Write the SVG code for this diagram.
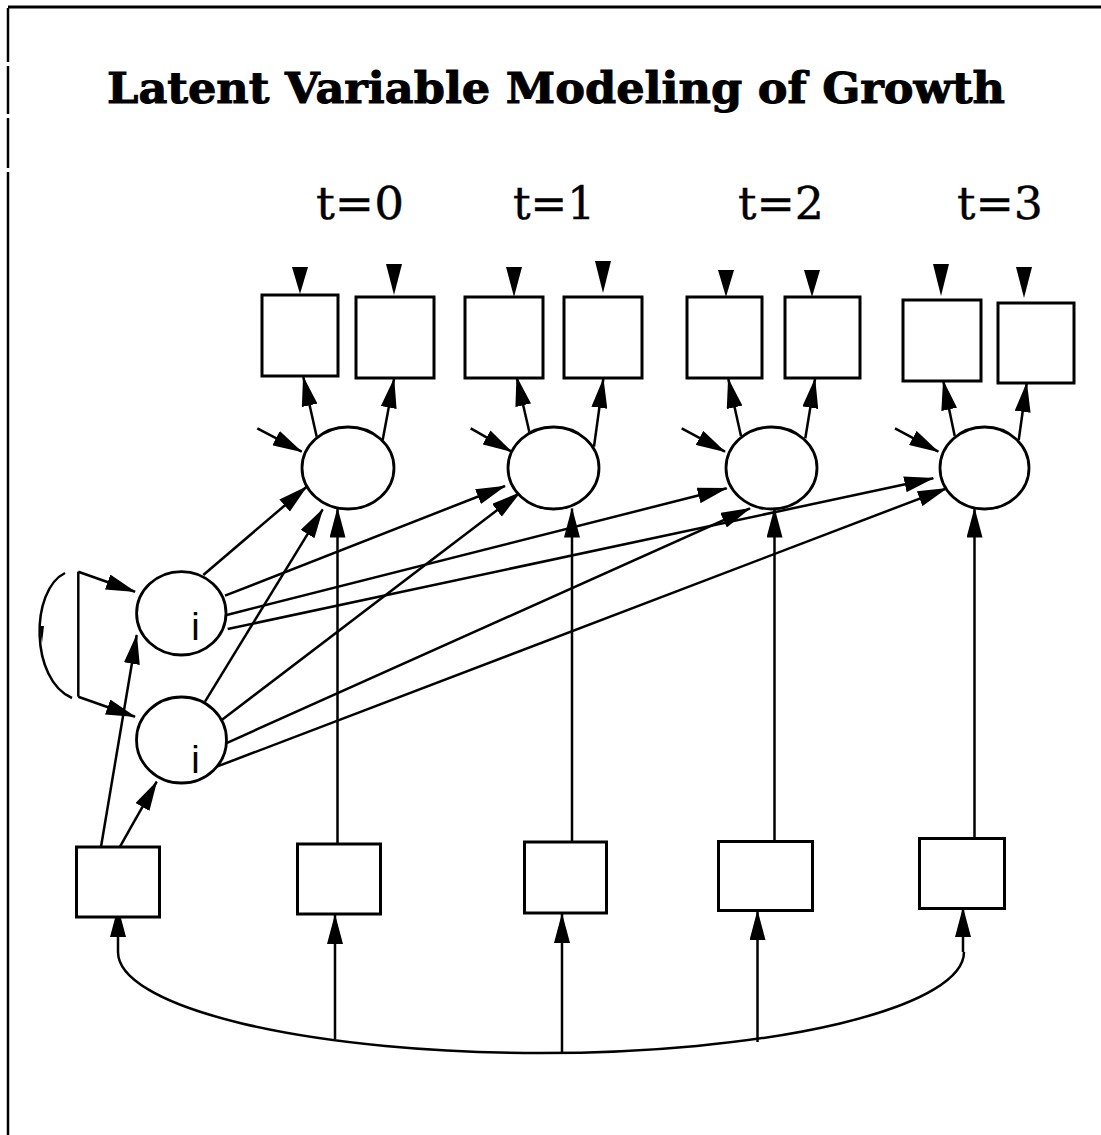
<svg xmlns="http://www.w3.org/2000/svg" width="1101" height="1135" viewBox="0 0 1101 1135">
<style>
.bg{fill:#fff}
.box{fill:#fff;stroke:#000;stroke-width:3}
.ell{fill:#fff;stroke:#000;stroke-width:2.8}
.ln{fill:none;stroke:#000;stroke-width:2.5}
.arr{fill:none;stroke:#000;stroke-width:2.5;marker-end:url(#ah)}
.tri{fill:#000}
.title{font-family:"DejaVu Serif","Liberation Serif",serif;font-weight:bold;font-size:43px;fill:#000;stroke:#000;stroke-width:1}
.time{font-family:"DejaVu Serif","Liberation Serif",serif;font-size:45px;fill:#000;stroke:#000;stroke-width:0.4}
.lab{font-family:"Liberation Sans",Arial,sans-serif;font-size:38px;fill:#000}
</style>
<defs>
<marker id="ah" markerUnits="userSpaceOnUse" markerWidth="30" markerHeight="16" viewBox="0 0 30 16" refX="29" refY="8" orient="auto">
<path d="M0,0 L30,8 L0,16 Z" fill="#000"/>
</marker>
</defs>
<rect class="bg" x="0" y="0" width="1101" height="1135"/>
<g id="border">
<line class="ln" x1="8" y1="7" x2="1101" y2="7" style="stroke-width:3"/>
<line class="ln" x1="8" y1="8" x2="8" y2="62"/>
<line class="ln" x1="8" y1="66" x2="8" y2="114"/>
<line class="ln" x1="8" y1="118" x2="8" y2="168"/>
<line class="ln" x1="8" y1="172" x2="8" y2="1135"/>
</g>
<g id="title">
<text class="title" x="107" y="103" textLength="898" lengthAdjust="spacingAndGlyphs">Latent Variable Modeling of Growth</text>
</g>
<g id="time-labels">
<text class="time" x="316" y="219" textLength="88" lengthAdjust="spacingAndGlyphs">t=0</text>
<text class="time" x="513" y="219" textLength="82" lengthAdjust="spacingAndGlyphs">t=1</text>
<text class="time" x="738" y="219" textLength="86" lengthAdjust="spacingAndGlyphs">t=2</text>
<text class="time" x="957" y="219" textLength="86" lengthAdjust="spacingAndGlyphs">t=3</text>
</g>
<g id="connectors">
<polygon class="tri" points="292,267 308,267 300,294"/>
<polygon class="tri" points="386,264 402,264 394,295"/>
<polygon class="tri" points="506,267 522,267 514,297"/>
<polygon class="tri" points="595,261 611,261 603,293"/>
<polygon class="tri" points="718,270 734,270 726,297"/>
<polygon class="tri" points="804,270 820,270 812,297"/>
<polygon class="tri" points="933,264 949,264 941,296"/>
<polygon class="tri" points="1016,267 1032,267 1024,298"/>
<line class="arr" x1="316.7" y1="436.7" x2="303.3" y2="377"/>
<line class="arr" x1="382.7" y1="440" x2="394" y2="379"/>
<line class="arr" x1="529.3" y1="431.7" x2="516.7" y2="377"/>
<line class="arr" x1="594" y1="446.7" x2="603.3" y2="379"/>
<line class="arr" x1="741" y1="436" x2="728.3" y2="379"/>
<line class="arr" x1="805.3" y1="438.3" x2="815" y2="379"/>
<line class="arr" x1="954.7" y1="436" x2="943.3" y2="381"/>
<line class="arr" x1="1018.7" y1="440" x2="1026.7" y2="383"/>
<line class="arr" x1="257.3" y1="428.3" x2="301.7" y2="451.7"/>
<line class="arr" x1="470.7" y1="428.3" x2="511.7" y2="451.7"/>
<line class="arr" x1="681.7" y1="428.3" x2="725" y2="451.7"/>
<line class="arr" x1="895" y1="428.3" x2="938.3" y2="451.7"/>
<line class="arr" x1="203.3" y1="575" x2="306.7" y2="486.7"/>
<line class="arr" x1="205" y1="701.7" x2="322.7" y2="509.3"/>
<line class="arr" x1="225" y1="595.7" x2="505" y2="486"/>
<line class="arr" x1="221.7" y1="720" x2="520" y2="492.7"/>
<line class="arr" x1="226.7" y1="615" x2="726.7" y2="488.3"/>
<line class="arr" x1="226" y1="743.3" x2="750" y2="508.3"/>
<line class="arr" x1="227.7" y1="629" x2="933.3" y2="478.3"/>
<line class="arr" x1="216.7" y1="766.7" x2="946.7" y2="488.3"/>
<line class="arr" x1="337.5" y1="844" x2="337.5" y2="508.5"/>
<line class="arr" x1="572" y1="841.7" x2="572" y2="508.5"/>
<line class="arr" x1="774.5" y1="841" x2="774.5" y2="508.5"/>
<line class="arr" x1="974.5" y1="838" x2="974.5" y2="508.5"/>
<line class="arr" x1="101" y1="846.7" x2="136.7" y2="635"/>
<line class="arr" x1="120" y1="846.7" x2="156.7" y2="781.7"/>
<line class="ln" x1="78.3" y1="571.7" x2="78.3" y2="696.7"/>
<line class="arr" x1="78.3" y1="571.7" x2="135" y2="591.7"/>
<line class="arr" x1="78.3" y1="696.7" x2="135" y2="716.7"/>
<path class="ln" d="M65,573 C30,590 30,680 72,698"/>
<polygon class="tri" points="39.5,626 44,626 42,643"/>
<path class="ln" d="M118,952 A423,101 0 0 0 964,952"/>
<line class="arr" x1="118" y1="952" x2="118" y2="908"/>
<line class="arr" x1="335" y1="1039" x2="335" y2="915"/>
<line class="arr" x1="562" y1="1053" x2="562" y2="914"/>
<line class="arr" x1="757.5" y1="1042" x2="757.5" y2="911"/>
<line class="arr" x1="963" y1="952" x2="963" y2="908"/>
</g>
<g id="y01"><rect class="box" x="262" y="295" width="76" height="81"/></g>
<g id="y02"><rect class="box" x="356" y="297" width="78" height="81"/></g>
<g id="y11"><rect class="box" x="465" y="297" width="78" height="81"/></g>
<g id="y12"><rect class="box" x="564" y="297" width="78" height="81"/></g>
<g id="y21"><rect class="box" x="687" y="297" width="75" height="81"/></g>
<g id="y22"><rect class="box" x="785" y="297" width="75" height="81"/></g>
<g id="y31"><rect class="box" x="903" y="300" width="78" height="81"/></g>
<g id="y32"><rect class="box" x="998" y="303" width="76" height="80"/></g>
<g id="f0"><ellipse class="ell" cx="348" cy="468" rx="46" ry="41"/></g>
<g id="f1"><ellipse class="ell" cx="553.5" cy="468" rx="45.5" ry="41"/></g>
<g id="f2"><ellipse class="ell" cx="771.5" cy="468" rx="45.5" ry="41"/></g>
<g id="f3"><ellipse class="ell" cx="984.5" cy="468" rx="44.5" ry="41"/></g>
<g id="eta-a"><ellipse class="ell" cx="181.3" cy="613.3" rx="44.7" ry="41.7"/><text class="lab" x="195.5" y="640" text-anchor="middle">i</text></g>
<g id="eta-b"><ellipse class="ell" cx="181.5" cy="740" rx="45" ry="43"/><text class="lab" x="195.5" y="773" text-anchor="middle">i</text></g>
<g id="x0"><rect class="box" x="76.5" y="847" width="83" height="70"/></g>
<g id="x1"><rect class="box" x="297.5" y="844" width="83" height="70"/></g>
<g id="x2"><rect class="box" x="524.5" y="842" width="82" height="71"/></g>
<g id="x3"><rect class="box" x="718.5" y="841.5" width="94" height="69"/></g>
<g id="x4"><rect class="box" x="919.5" y="838.5" width="85" height="70"/></g>
</svg>
